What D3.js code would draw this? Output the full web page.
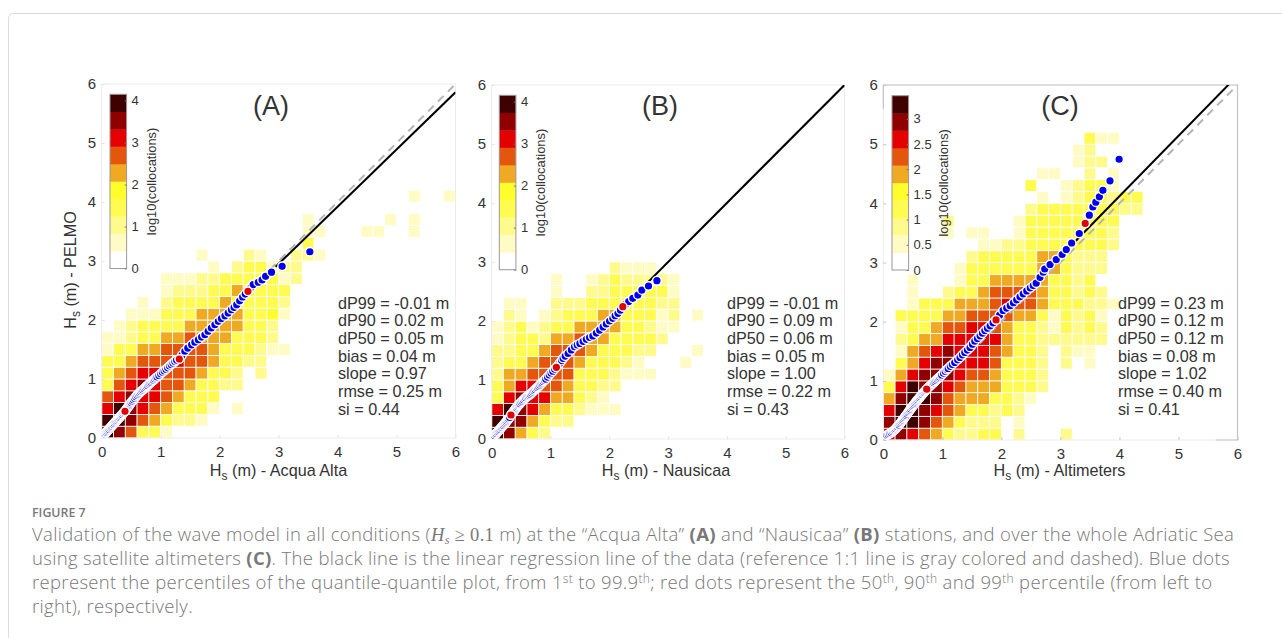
<!DOCTYPE html>
<html>
<head>
<meta charset="utf-8">
<script src="https://cdn.jsdelivr.net/npm/d3@7"></script>
<style>
  body { margin: 0; background: white; }
  text { font-family: "Liberation Sans", Arial, sans-serif; fill: #333; }
  text.caption { font-family: "Open Sans", sans-serif; font-weight: 300; fill: #787878; }
</style>
</head>
<body>
<div id="viz"></div>
<script>
// global variables that we need at various spots:
let w = 1282;
let h = 638;

// DATA
// colour classes of the 2d histogram, bottom class is empty
let classColors = ["#ffffff","#fffbc4","#fffa8c","#fffb50","#fffe2c","#efa923","#e5560d","#e40000","#900000","#3e0000"];

// each string is a row of cells (0.2 m wide) from Hs = 0 upward, digit = colour class
let gridA = [
  "98633 1",
  "99865 3221",
  "79876 53331 01",
  "67877 65333",
  "36787 66533 22",
  "35677 66653 32020",
  "33566 67665 33220",
  "13355 66665 33321 1",
  "11233 55655 53332",
  "01233 33555 55332",
  "00111 33355 55334 1",
  "00010 23333 54333 2",
  "00000 12223 35333 3",
  "00000 11122 33333 12",
  "00000 00001 02331 22",
  "00000 00010 00210 0221",
  "00000 00000 00000 003",
  "00000 00000 00000 00110 00110 01",
  "00000 00000 00000 00100 00001 01",
  "",
  "00000 00000 00000 00000 00000 01001"
];
let gridB = [
  "98532",
  "98853 22",
  "79875 33211 1",
  "37877 55321",
  "35776 65332 2",
  "25566 66333 2111",
  "23356 66533 32100 01",
  "22335 66653 33220 001",
  "12332 55655 33332",
  "12312 33555 53321 1",
  "02101 23335 53331 201",
  "01100 22233 33332 2",
  "00000 10022 33333 1",
  "00000 10012 32222 1",
  "00000 00000 21110"
];
let gridC = [
  "78765 32233 02000 2",
  "89986 53222 01",
  "79987 65332 32",
  "58998 65553 321",
  "37988 76555 3332",
  "15788 87665 3332",
  "03578 87776 33320 201",
  "01567 87776 53320 211",
  "02355 77777 53322 2222",
  "01335 66776 53321 3232",
  "03333 55666 65531 3231",
  "00133 35556 76653 33221",
  "00100 23356 66653 3232",
  "00100 01335 55553 323",
  "00000 01333 33355 3222",
  "00000 00233 33355 3222",
  "00000 00011 22333 33332",
  "00000 10110 01333 33332",
  "00000 20000 01333 33333",
  "00000 00000 00233 33333 22",
  "00000 00000 00010 12332 33",
  "00000 00000 00300 12331",
  "00000 00000 00011 00201",
  "00000 00000 00000 01220",
  "00000 00000 00000 012",
  "00000 00000 00000 00311"
];

// quantile-quantile dots
let qqXA = [.05,.065,.08,.095,.11,.125,.14,.155,.17,.185,.2,.215,.23,.245,.26,.275,.29,.305,.32,.335,.35,.365,.38,.395,.41,.425,.44,.455,.47,.485,.5,
  .52,.54,.56,.58,.6,.62,.64,.66,.68,.7,.72,.74,.76,.78,.8,.82,.84,.86,.88,.9,.92,.94,
  .97,1.0,1.03,1.06,1.09,1.12,1.15,1.18,1.21,1.24,1.27,1.316,
  1.36,1.41,1.46,1.525,1.58,1.64,1.695,1.75,1.805,1.86,1.92,1.977,2.03,2.09,2.145,2.2,2.245,2.29,2.34,2.39,2.435,2.48,
  2.53,2.57,2.655,2.72,2.78,2.88,3.06,3.53];
let qqYA = [.07,.085,.10,.12,.135,.15,.17,.185,.20,.22,.235,.25,.27,.285,.30,.32,.335,.35,.37,.385,.40,.42,.435,.452,.475,.495,.515,.535,.555,.58,.60,
  .625,.65,.675,.70,.725,.745,.765,.785,.80,.815,.835,.855,.875,.89,.91,.93,.945,.965,.98,1.0,1.02,1.035,
  1.06,1.09,1.115,1.14,1.165,1.19,1.22,1.245,1.27,1.295,1.32,1.339,
  1.40,1.47,1.525,1.58,1.625,1.667,1.71,1.75,1.81,1.864,1.92,1.977,2.025,2.07,2.12,2.175,2.215,2.26,2.325,2.39,2.44,2.486,
  2.55,2.6,2.64,2.68,2.74,2.81,2.91,3.157];
let qqXB = [.05,.065,.08,.095,.11,.125,.14,.155,.17,.185,.2,.215,.23,.245,.26,.275,.29,.305,.328,.345,.36,.375,.39,.405,.42,.435,.45,.465,.48,.5,
  .52,.54,.56,.58,.6,.62,.64,.66,.68,.7,.72,.74,.76,.78,.8,.82,.84,.86,.88,.9,.92,
  .95,.98,1.01,1.04,1.07,1.10,1.13,1.16,1.19,1.215,1.25,1.30,1.355,1.41,1.455,1.5,1.555,1.61,1.665,1.72,1.78,1.836,1.895,1.95,2.005,2.06,2.10,2.147,2.19,2.23,
  2.28,2.33,2.40,2.486,2.554,2.667,2.81];
let qqYB = [.06,.08,.095,.115,.13,.15,.165,.185,.2,.22,.235,.255,.27,.29,.305,.325,.345,.365,.407,.43,.45,.47,.49,.51,.53,.55,.57,.585,.60,.625,
  .645,.665,.685,.70,.72,.735,.745,.76,.78,.80,.82,.84,.86,.875,.895,.915,.935,.955,.975,.995,1.015,
  1.05,1.085,1.12,1.15,1.185,1.215,1.25,1.29,1.33,1.367,1.405,1.45,1.51,1.565,1.595,1.62,1.655,1.69,1.72,1.746,1.795,1.847,1.90,1.95,2.0,2.045,2.09,2.13,2.185,2.243,
  2.285,2.33,2.384,2.44,2.525,2.593,2.684];
let qqXC = [.06,.085,.11,.135,.16,
  .18,.195,.21,.225,.24,.255,.27,.285,.30,.315,.33,.345,.36,.375,.39,.405,.42,.435,.45,.465,.48,.495,.51,.525,.54,.555,.57,.585,.60,.615,.63,.645,.66,.675,.69,.705,.72,.735,
  .755,.775,.795,.815,.835,.855,.875,.895,.915,.935,.955,.975,.99,
  1.02,1.05,1.08,1.10,1.135,1.17,1.21,1.26,1.30,1.34,1.38,1.425,1.47,1.51,1.55,1.595,1.64,1.68,1.72,1.765,1.81,1.86,1.91,
  1.97,2.03,2.09,2.15,2.205,2.26,2.315,2.37,2.43,2.49,2.54,2.59,2.655,2.71,2.735,2.825,2.93,3.03,3.10,3.19,3.32,3.42,3.49,3.55,3.60,3.66,3.72,3.84,3.995];
let qqYC = [.08,.095,.11,.125,.145,
  .16,.175,.19,.21,.225,.245,.255,.28,.30,.32,.34,.36,.38,.40,.42,.44,.465,.485,.505,.525,.548,.565,.585,.605,.625,.645,.665,.68,.70,.715,.735,.755,.77,.79,.805,.825,.84,.859,
  .88,.90,.915,.935,.955,.97,.99,1.01,1.03,1.05,1.065,1.085,1.10,
  1.13,1.16,1.19,1.21,1.245,1.275,1.31,1.355,1.395,1.44,1.48,1.52,1.565,1.62,1.67,1.715,1.76,1.805,1.85,1.89,1.93,1.98,2.03,
  2.11,2.19,2.23,2.27,2.32,2.37,2.42,2.47,2.52,2.57,2.61,2.65,2.75,2.835,2.89,2.966,3.05,3.135,3.22,3.33,3.49,3.66,3.80,3.94,4.02,4.11,4.22,4.38,4.745];

// red dots: 50th, 90th, 99th percentile
let redXA = [.395,1.316,2.48], redYA = [.452,1.339,2.486];
let redXB = [.328,1.10,2.23],  redYB = [.407,1.215,2.243];
let redXC = [.735,1.91,3.42],  redYC = [.859,2.03,3.66];

// regression line: [intercept, slope]
let fitA = [0.04, 0.97];
let fitB = [0.0, 1.00];
let fitC = [0.04, 1.02];

let statsA = ["dP99 = -0.01 m","dP90 = 0.02 m","dP50 = 0.05 m","bias = 0.04 m","slope = 0.97","rmse = 0.25 m","si = 0.44"];
let statsB = ["dP99 = -0.01 m","dP90 = 0.09 m","dP50 = 0.06 m","bias = 0.05 m","slope = 1.00","rmse = 0.22 m","si = 0.43"];
let statsC = ["dP99 = 0.23 m","dP90 = 0.12 m","dP50 = 0.12 m","bias = 0.08 m","slope = 1.02","rmse = 0.40 m","si = 0.41"];

let axisTicks = [0,1,2,3,4,5,6];
let cbTicksAB = [0,1,2,3,4];
let cbTicksC = [0,0.5,1,1.5,2,2.5,3];

// put the svg onto the page:
let viz = d3.select("#viz")
  .append("svg")
    .attr("width", w)
    .attr("height", h)
    .style("display", "block")
;

// page card outline
viz.append("path")
  .attr("d", "M8.5,638 V19 Q8.5,13.5 14,13.5 H1282")
  .attr("fill", "none")
  .attr("stroke", "#dcdcdc");

function drawPanel(p){
  let xScale = d3.scaleLinear().domain([0,6]).range([p.x0, p.x1]);
  let yScale = d3.scaleLinear().domain([0,6]).range([p.y0, p.y1]);

  let g = viz.append("g");

  // histogram cells
  let cells = [];
  p.grid.forEach(function(row, r){
    row.replace(/ /g,"").split("").forEach(function(c, col){
      if(c != "0"){
        cells.push({col: col, row: r, level: +c});
      }
    });
  });
  g.selectAll(".cell").data(cells).enter()
    .append("rect")
      .attr("class", "cell")
      .attr("x", function(d){ return xScale(d.col*0.2); })
      .attr("y", function(d){ return yScale((d.row+1)*0.2); })
      .attr("width", xScale(0.2)-xScale(0))
      .attr("height", yScale(0)-yScale(0.2))
      .attr("fill", function(d){ return classColors[d.level]; })
      .attr("stroke", "white")
      .attr("stroke-width", 0.8)
  ;

  let lineMaker = d3.line()
    .x(function(d){ return xScale(d[0]); })
    .y(function(d){ return yScale(d[1]); });

  // frame
  g.append("rect")
    .attr("x", p.x0).attr("y", p.y1)
    .attr("width", p.x1-p.x0).attr("height", p.y0-p.y1)
    .attr("fill", "none")
    .attr("stroke", "#ececec");
  if(p.darkFrame){
    g.append("path")
      .attr("d", lineMaker(p.darkFrame))
      .attr("fill", "none")
      .attr("stroke", "#c4c4c4")
      .attr("stroke-width", 1.2);
  }

  // axes
  let xAxis = d3.axisBottom(xScale).tickValues(axisTicks).tickSize(-3).tickPadding(8).tickFormat(d3.format("d"));
  let yAxis = d3.axisLeft(yScale).tickValues(axisTicks).tickSize(-3).tickPadding(5.5).tickFormat(d3.format("d"));
  let xG = g.append("g").attr("transform", "translate(0,"+p.y0+")").call(xAxis);
  let yG = g.append("g").attr("transform", "translate("+p.x0+",0)").call(yAxis);
  [xG, yG].forEach(function(a){
    a.select(".domain").remove();
    a.selectAll("line").attr("stroke", p.darkFrame ? "#c4c4c4" : "#e4e4e4");
    a.selectAll("text").style("font-size", "15px").attr("fill", "#333");
  });

  // clip for the lines
  let clipId = "clip"+p.name;
  viz.append("clipPath").attr("id", clipId).append("rect")
    .attr("x", p.x0).attr("y", p.y1)
    .attr("width", p.x1-p.x0).attr("height", p.y0-p.y1);

  // the lines only show above the cloud of dots
  g.append("path")
    .attr("d", lineMaker([[p.grayFrom,p.grayFrom],[6,6]]))
    .attr("clip-path", "url(#"+clipId+")")
    .attr("fill", "none")
    .attr("stroke", "#b4b4b4")
    .attr("stroke-width", 2)
    .attr("stroke-dasharray", "8,6");

  g.append("path")
    .attr("d", lineMaker([[p.blackFrom,p.fit[0]+p.blackFrom*p.fit[1]],[6,p.fit[0]+6*p.fit[1]]]))
    .attr("clip-path", "url(#"+clipId+")")
    .attr("fill", "none")
    .attr("stroke", "black")
    .attr("stroke-width", 2);

  // quantile dots, drawn from low to high so the white edges pile up
  g.selectAll(".qq").data(p.qqX).enter()
    .append("circle")
      .attr("class", "qq")
      .attr("cx", function(d){ return xScale(d); })
      .attr("cy", function(d,i){ return yScale(p.qqY[i]); })
      .attr("r", 4.3)
      .attr("fill", "#0000f0")
      .attr("stroke", "white")
      .attr("stroke-width", 1.4)
  ;
  g.selectAll(".red").data(p.redX).enter()
    .append("circle")
      .attr("class", "red")
      .attr("cx", function(d){ return xScale(d); })
      .attr("cy", function(d,i){ return yScale(p.redY[i]); })
      .attr("r", 4.3)
      .attr("fill", "#e00000")
      .attr("stroke", "white")
      .attr("stroke-width", 1.4)
  ;

  // colorbar
  let cbScale = d3.scaleLinear().domain([0,p.cbMax]).range([p.cbY0,p.cbY1]);
  let bandH = (p.cbY0-p.cbY1)/classColors.length;
  g.selectAll(".band").data(classColors).enter()
    .append("rect")
      .attr("class", "band")
      .attr("x", p.cbX)
      .attr("y", function(d,i){ return p.cbY0-(i+1)*bandH; })
      .attr("width", 16.6)
      .attr("height", bandH+0.3)
      .attr("fill", function(d){ return d; })
  ;
  g.append("rect")
    .attr("x", p.cbX).attr("y", p.cbY1)
    .attr("width", 16.6).attr("height", p.cbY0-p.cbY1)
    .attr("fill", "none")
    .attr("stroke", "#9a9a9a");
  let cbG = g.append("g")
    .attr("transform", "translate("+(p.cbX+16.6)+",0)")
    .call(d3.axisRight(cbScale).tickValues(p.cbTicks).tickSize(-2).tickPadding(5).tickFormat(d3.format("")));
  cbG.select(".domain").remove();
  cbG.selectAll("line").attr("stroke", "#777");
  cbG.selectAll("text").style("font-size", "13px").attr("fill", "#333");

  g.append("text")
    .attr("transform", "translate("+p.cbLabelX+","+((p.cbY0+p.cbY1)/2)+") rotate(-90)")
    .attr("text-anchor", "middle")
    .style("font-size", "12.9px")
    .text("log10(collocations)");

  // panel letter
  g.append("text")
    .attr("x", p.letterX).attr("y", 115)
    .attr("text-anchor", "middle")
    .style("font-size", "27px")
    .text(p.letter);

  // numbers
  g.selectAll(".stat").data(p.stats).enter()
    .append("text")
      .attr("class", "stat")
      .attr("x", p.statX)
      .attr("y", function(d,i){ return 308.5+i*17.7; })
      .style("font-size", "16.2px")
      .text(function(d){ return d; })
  ;

  // x label
  let xl = g.append("text")
    .attr("x", p.xLabelX).attr("y", 476)
    .attr("text-anchor", "middle")
    .style("font-size", "16.2px");
  xl.append("tspan").text("H");
  xl.append("tspan").attr("dy", 4).style("font-size", "12px").text("s");
  xl.append("tspan").attr("dy", -4).text(" (m) - "+p.xName);
}

drawPanel({
  name:"A", letter:"(A)", letterX:271, grid:gridA, qqX:qqXA, qqY:qqYA, redX:redXA, redY:redYA, fit:fitA, stats:statsA, statX:338,
  x0:101.7, x1:455.5, y0:438, y1:84, grayFrom:2.85, blackFrom:2.95,
  cbX:110, cbY0:268.5, cbY1:94.3, cbMax:4.15, cbTicks:cbTicksAB, cbLabelX:155.5, xLabelX:278.5, xName:"Acqua Alta"
});
drawPanel({
  name:"B", letter:"(B)", letterX:660, grid:gridB, qqX:qqXB, qqY:qqYB, redX:redXB, redY:redYB, fit:fitB, stats:statsB, statX:727,
  x0:491.7, x1:844.5, y0:439, y1:85, grayFrom:2.6, blackFrom:2.65,
  cbX:499.3, cbY0:269.7, cbY1:95.3, cbMax:4.15, cbTicks:cbTicksAB, cbLabelX:544.5, xLabelX:666, xName:"Nausicaa"
});
drawPanel({
  name:"C", letter:"(C)", letterX:1060, grid:gridC, qqX:qqXC, qqY:qqYC, redX:redXC, redY:redYC, fit:fitC, stats:statsC, statX:1118,
  x0:883.3, x1:1237.5, y0:440, y1:85, grayFrom:1.3, blackFrom:3.15,
  darkFrame:[[0,5.6],[0,6],[6,6],[6,0],[5.63,0]],
  cbX:892, cbY0:270, cbY1:95.7, cbMax:3.458, cbTicks:cbTicksC, cbLabelX:948, xLabelX:1059.5, xName:"Altimeters"
});

// y label only on the first panel
let yl = viz.append("text")
  .attr("transform", "translate(76,270) rotate(-90)")
  .attr("text-anchor", "middle")
  .style("font-size", "16.2px");
yl.append("tspan").text("H");
yl.append("tspan").attr("dy", 4).style("font-size", "12px").text("s");
yl.append("tspan").attr("dy", -4).text(" (m) - PELMO");

// caption
viz.append("text")
  .attr("class", "caption")
  .attr("x", 32).attr("y", 517)
  .style("font-size", "12.4px")
  .style("font-weight", 600)
  .text("FIGURE 7");

function captionLine(y, parts){
  let t = viz.append("text")
    .attr("class", "caption")
    .attr("x", 32).attr("y", y)
    .style("font-size", "18.5px")
    .style("letter-spacing", "0.33px");
  let dyNow = 0;
  parts.forEach(function(part){
    let want = part.sup ? -6 : (part.sub ? 3 : 0);
    let s = t.append("tspan").attr("dy", want-dyNow).text(part.t);
    dyNow = want;
    if(part.b){ s.style("font-weight", 700); }
    if(part.sup || part.sub){ s.style("font-size", "12px"); }
    if(part.math){ s.style("font-family", "'Liberation Serif', serif").style("font-style", part.i ? "italic" : "normal"); }
    if(part.sub){ s.style("font-family", "'Liberation Serif', serif").style("font-style", "italic"); }
  });
}
captionLine(541, [
  {t:"Validation of the wave model in all conditions ("},
  {t:"H", math:true, i:true},
  {t:"s", sub:true},
  {t:" ≥ 0.1", math:true},
  {t:" m) at the “Acqua Alta” "},
  {t:"(A)", b:true},
  {t:" and “Nausicaa” "},
  {t:"(B)", b:true},
  {t:" stations, and over the whole Adriatic Sea"}
]);
captionLine(565, [
  {t:"using satellite altimeters "},
  {t:"(C)", b:true},
  {t:". The black line is the linear regression line of the data (reference 1:1 line is gray colored and dashed). Blue dots"}
]);
captionLine(589, [
  {t:"represent the percentiles of the quantile-quantile plot, from 1"},
  {t:"st", sup:true},
  {t:" to 99.9"},
  {t:"th", sup:true},
  {t:"; red dots represent the 50"},
  {t:"th", sup:true},
  {t:", 90"},
  {t:"th", sup:true},
  {t:" and 99"},
  {t:"th", sup:true},
  {t:" percentile (from left to"}
]);
captionLine(613, [
  {t:"right), respectively."}
]);
</script>
</body>
</html>
